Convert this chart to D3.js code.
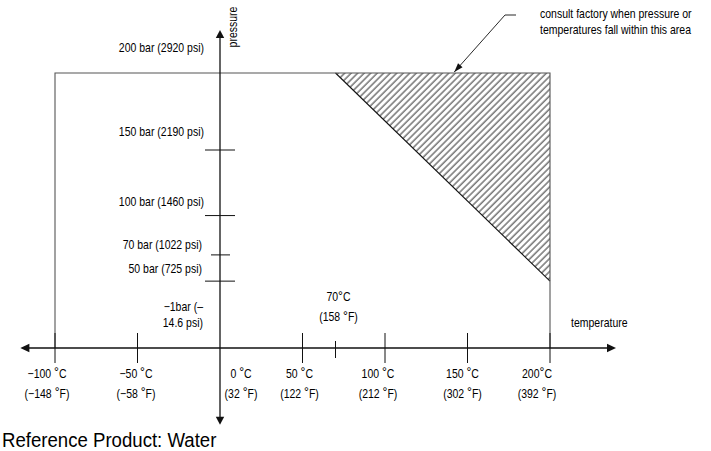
<!DOCTYPE html>
<html>
<head>
<meta charset="utf-8">
<script src="https://cdn.jsdelivr.net/npm/d3@7"></script>
<style>
  html, body { margin: 0; padding: 0; background: #fff; }
  svg { display: block; }
  text { font-family: "Liberation Sans", Arial, Helvetica, sans-serif; fill: #000; }
</style>
</head>
<body>
<svg id="chart" width="711" height="451"></svg>
<script>
// ---------------- data ----------------
const tempTicks = [-100, -50, 50, 70, 100, 150, 200];            // °C tick marks on the temperature axis
const tempLabelsC = [-100, -50, 0, 50, 100, 150, 200];           // °C labels
const tempLabelsF = [-148, -58, 32, 122, 212, 302, 392];         // °F equivalents
const pressureTicks = [50, 70, 100, 150];                        // bar tick marks
const pressureLabels = [
  ["200 bar (2920 psi)"],
  ["150 bar (2190 psi)"],
  ["100 bar (1460 psi)"],
  ["70 bar (1022 psi)"],
  ["50 bar (725 psi)"],
  ["\u22121bar (\u2013", "14.6 psi)"]
];
const pressureLabelValues = [200, 150, 100, 70, 50, -1];
const envelopeTemp = [-100, 200];       // operating envelope temperature range
const envelopePressure = [-1, 200];     // operating envelope pressure range
const consultTemp = [70, 200, 200];     // hatched "consult factory" area (°C)
const consultPressure = [200, 200, 50]; // hatched area (bar)
const markerTempC = 70, markerTempF = 158;
const annotationLines = ["consult factory when pressure or", "temperatures fall within this area"];
const annotationTarget = [142, 200];    // °C, bar: where the leader arrow points
const tempAxisExtent = [-121, 240];
const pressureAxisExtent = [-59.5, 228];

// ---------------- layout ----------------
const svg = d3.select("#chart");
const x = d3.scaleLinear().domain([-100, 200]).range([55, 550]);
// schematic (piecewise) pressure scale, as drawn in the original
const y = d3.scaleLinear().domain([-1, 150, 200]).range([348, 150, 73]);

const labelDy = [-21, -14, -10, -6, -8, -37];      // baseline offsets of pressure labels from their value
const labelEnd = [204, 204, 204, 202, 202, 203];
const tempLabelDx = [-8, -1.5, 21, -3, -7, -5, -13];
const fs = 12.5;      // small text size
const SX = 0.84;      // horizontal condensing of the narrow typeface

function T(parent, px, py, anchor, size, sx, extra) {
  const g = parent.append("g")
    .attr("transform", `translate(${px},${py})${extra || ""} scale(${sx},1)`);
  return g.append("text").attr("text-anchor", anchor).attr("font-size", size);
}

const defs = svg.append("defs");
const hatch = defs.append("pattern")
  .attr("id", "hatch").attr("patternUnits", "userSpaceOnUse")
  .attr("width", 4.6).attr("height", 10)
  .attr("patternTransform", "rotate(45)");
hatch.append("line").attr("x1", 1).attr("x2", 1).attr("y1", 0).attr("y2", 10)
  .attr("stroke", "#000").attr("stroke-width", 0.85);

function arrowHead(g, tip, dir, len, half) {
  const [tx, ty] = tip, [dx, dy] = dir;
  const bx = tx - dx * len, by = ty - dy * len;
  const px = -dy, py = dx;
  g.append("path")
    .attr("d", `M${tx},${ty}L${bx + px * half},${by + py * half}L${bx - px * half},${by - py * half}Z`)
    .attr("fill", "#111");
}

// hatched area
const poly = consultTemp.map((t, i) => [x(t), y(consultPressure[i])]);
svg.append("path")
  .attr("d", d3.line()(poly) + "Z")
  .attr("fill", "url(#hatch)").attr("stroke", "none");
svg.append("path")
  .attr("d", d3.line()([poly[0], poly[2]]))
  .attr("stroke", "#111").attr("stroke-width", 1.1).attr("fill", "none");

// envelope rectangle (open at bottom — the axis closes it)
svg.append("path")
  .attr("d", d3.line()([
    [x(envelopeTemp[0]), y(envelopePressure[0])],
    [x(envelopeTemp[0]), y(envelopePressure[1])],
    [x(envelopeTemp[1]), y(envelopePressure[1])],
    [x(envelopeTemp[1]), y(envelopePressure[0])]
  ]))
  .attr("stroke", "#555").attr("stroke-width", 1.1).attr("fill", "none");

// temperature axis
const ax = svg.append("g");
const y0 = y(-1);
ax.append("line")
  .attr("x1", x(tempAxisExtent[0]) + 6).attr("x2", x(tempAxisExtent[1]) - 6)
  .attr("y1", y0).attr("y2", y0).attr("stroke", "#111").attr("stroke-width", 1.3);
arrowHead(ax, [x(tempAxisExtent[0]), y0], [-1, 0], 9, 4.2);
arrowHead(ax, [x(tempAxisExtent[1]), y0], [1, 0], 9, 4.2);
ax.selectAll("line.tick").data(tempTicks).join("line")
  .attr("class", "tick")
  .attr("x1", d => x(d)).attr("x2", d => x(d))
  .attr("y1", d => y0 - (d === markerTempC ? 7 : 15))
  .attr("y2", d => y0 + (d === markerTempC ? 10 : 15))
  .attr("stroke", "#111").attr("stroke-width", 1);

// pressure axis
const x0 = x(0);
ax.append("line")
  .attr("x1", x0).attr("x2", x0)
  .attr("y1", y(pressureAxisExtent[1]) + 6).attr("y2", y(pressureAxisExtent[0]) - 6)
  .attr("stroke", "#111").attr("stroke-width", 1.3);
arrowHead(ax, [x0, y(pressureAxisExtent[1])], [0, -1], 8, 4.2);
arrowHead(ax, [x0, y(pressureAxisExtent[0])], [0, 1], 8, 4.2);
ax.selectAll("line.ptick").data(pressureTicks).join("line")
  .attr("class", "ptick")
  .attr("x1", d => x0 - (d === 70 ? 9 : 15)).attr("x2", d => x0 + (d === 70 ? 10 : 15))
  .attr("y1", d => y(d)).attr("y2", d => y(d))
  .attr("stroke", "#111").attr("stroke-width", 1);

// pressure labels
pressureLabels.forEach((lines, i) => {
  const t = T(svg, labelEnd[i], y(pressureLabelValues[i]) + labelDy[i], "end", fs, SX);
  lines.forEach((s, j) => t.append("tspan").attr("x", 0).attr("dy", j ? 16.5 : 0).text(s));
});

// temperature labels
function degText(sel, num, unit, paren, space) {
  sel.append("tspan").text((paren ? "(" : "") + num + (space ? " " : ""));
  sel.append("tspan").attr("font-size", 14.5).attr("dy", -0.5).text("\u00b0");
  sel.append("tspan").attr("dy", 0.5).text(unit + (paren ? ")" : ""));
}
const fmt = v => (v < 0 ? "\u2212" + Math.abs(v) : String(v));
tempLabelsC.forEach((c, i) => {
  const cx = x(c) + tempLabelDx[i];
  degText(T(svg, cx, 377.5, "middle", fs, SX), fmt(c), "C", false, c !== 200);
  degText(T(svg, cx, 397.5, "middle", fs, SX), fmt(tempLabelsF[i]), "F", true, true);
});

// 70 °C marker label
degText(T(svg, x(markerTempC) + 3, 301, "middle", fs, SX), markerTempC, "C", false, false);
degText(T(svg, x(markerTempC) + 3, 321, "middle", fs, SX), markerTempF, "F", true, true);

// axis titles
T(svg, 571, 327, "start", fs, SX).text("temperature");
T(svg, x0 + 16.5, 27, "middle", fs, SX, " rotate(-90)").text("pressure");

// annotation
const ann = T(svg, 540, 18, "start", fs, SX);
annotationLines.forEach((s, j) => ann.append("tspan").attr("x", 0).attr("dy", j ? 16 : 0).text(s));
const tip = [x(annotationTarget[0]), y(annotationTarget[1]) - 1];
const elbow = [505, 15];
svg.append("path")
  .attr("d", d3.line()([[516, 15], elbow, tip]))
  .attr("stroke", "#111").attr("stroke-width", 0.9).attr("fill", "none");
{
  const dx = tip[0] - elbow[0], dy = tip[1] - elbow[1], L = Math.hypot(dx, dy);
  arrowHead(svg, tip, [dx / L, dy / L], 9, 3);
}

// footer
T(svg, 2, 446.5, "start", 19.5, 0.955).text("Reference Product: Water");
</script>
</body>
</html>
